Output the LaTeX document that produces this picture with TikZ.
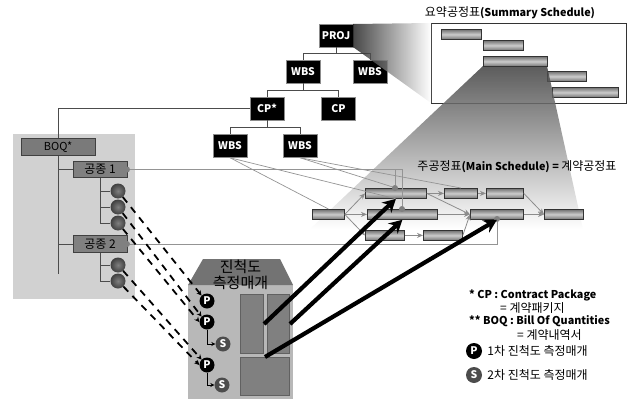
\documentclass[tikz,border=0pt]{standalone}
\usepackage{fontspec}
\setmainfont{Noto Sans CJK KR}
\usetikzlibrary{arrows.meta, positioning, calc}
\newcommand{\latn}[1]{{\fontsize{10.8}{12}\selectfont\bfseries #1}}
\tikzset{
  wbsbox/.style={fill=black, draw=black!45, line width=0.5pt, text=white, font=\fontsize{10.5}{12}\selectfont\bfseries, minimum width=34pt, minimum height=23pt, inner sep=0pt},
  barbox/.style={draw=black!80, line width=0.8pt, top color=black!55, bottom color=black!55, middle color=black!20, minimum height=10pt, inner sep=0pt, anchor=north west},
  tradebox/.style={fill=black!50, draw=black!75, line width=0.7pt, text=black, font=\fontsize{12}{14}\selectfont, minimum height=16.5pt, inner sep=0pt},
  workball/.style={circle, inner color=black!50, outer color=black!75, minimum size=15pt, inner sep=0pt},
  dotmark/.style={circle, fill=black!50, minimum size=6pt, inner sep=0pt},
  pbadge/.style={circle, fill=black, text=white, font=\fontsize{10.5}{11}\selectfont\bfseries, minimum size=15pt, inner sep=0pt},
  sbadge/.style={circle, fill=black!70, text=white, font=\fontsize{10.5}{11}\selectfont\bfseries, minimum size=15pt, inner sep=0pt},
  rackbox/.style={fill=black!50, draw=black!62, line width=1pt, inner sep=0pt, anchor=north west},
  treeline/.style={draw=black!70, line width=0.7pt},
  linkline/.style={draw=black!42, line width=0.7pt},
  flowline/.style={draw=black!45, line width=0.8pt, -{Stealth[length=6pt,width=5pt]}},
  dashline/.style={draw=black, line width=1.8pt, dash pattern=on 7pt off 6pt, -{Stealth[length=5pt,width=5pt]}},
  bigarrow/.style={draw=black, line width=4.2pt, -{Stealth[length=13pt,width=14pt]}},
  plainlabel/.style={font=\fontsize{12}{14}\selectfont, inner sep=0pt, anchor=west},
}
\begin{document}
\begin{tikzpicture}[x=1pt, y=-1pt]
  \useasboundingbox (0,0) rectangle (633,399);
  % panels
  \fill[black!18] (13,134) rectangle (135,299);
  \draw[black!80, line width=0.8pt] (431,23) rectangle (626,103);
  \node[barbox, minimum width=40pt] (suma) at (441,29) {};
  \node[barbox, minimum width=40pt] (sumb) at (483,40) {};
  \node[barbox, minimum width=39pt] (sumd) at (547,71) {};
  \node[barbox, minimum width=66pt] (sume) at (552,87) {};
  % tree
  \node[wbsbox] (proj) at (336,35.5) {PROJ};
  \node[wbsbox] (wbsa) at (303,71.5) {WBS};
  \node[wbsbox] (wbsb) at (370,71.5) {WBS};
  \node[wbsbox] (cpa) at (267,108.5) {CP*};
  \node[wbsbox] (cpb) at (338.5,108.5) {CP};
  \node[wbsbox] (wbsc) at (230,146) {WBS};
  \node[wbsbox] (wbsd) at (300,146) {WBS};
  \draw[treeline] (proj.south) -- ++(0,6) -| (wbsa.north);
  \draw[treeline] (proj.south) -- ++(0,6) -| (wbsb.north);
  \draw[treeline] (wbsa.south) -- ++(0,7) -| (cpa.north);
  \draw[treeline] (wbsa.south) -- ++(0,7) -| (cpb.north);
  \draw[treeline] (cpa.south) -- ++(0,7) -| (wbsc.north);
  \draw[treeline] (cpa.south) -- ++(0,7) -| (wbsd.north);
  % fans
  \shade[left color=black!90, right color=white, opacity=0.8] (353,24) -- (431,23) -- (431,103) -- (353,47) -- cycle;
  \shade[top color=black!75, bottom color=white, opacity=0.85] (483,66) -- (547,66) -- (583,229) -- (310,229) -- cycle;
  \node[barbox, minimum width=64pt] (sumc) at (483,56) {};
  \node[font=\fontsize{12}{14}\selectfont, inner sep=0pt] (sumtitle) at (510,13) {요약공정표\latn{(Summary Schedule)}};
  \node[font=\fontsize{12}{14}\selectfont, inner sep=0pt] (maintitle) at (517,167) {주공정표\latn{(Main Schedule) = }계약공정표};
  % schedule bars
  \node[barbox, minimum width=32pt] (bara) at (312,209) {};
  \node[barbox, minimum width=61pt] (barb) at (365,188) {};
  \node[barbox, minimum width=33pt] (barc) at (444,188) {};
  \node[barbox, minimum width=37pt] (bard) at (486,188) {};
  \node[barbox, minimum width=70pt] (bare) at (367,209) {};
  \node[barbox, minimum width=53pt] (barf) at (470,209) {};
  \node[barbox, minimum width=39pt] (barg) at (544,209) {};
  \node[barbox, minimum width=39pt] (barh) at (365,230) {};
  \node[barbox, minimum width=39pt] (bari) at (423,230) {};
  \draw[flowline] (bara.east) -- (barb.west);
  \draw[flowline] (bara.east) -- (bare.west);
  \draw[flowline] (bara.east) -- (barh.west);
  \draw[flowline] (barb.east) -- (barc.west);
  \draw[flowline] (barc.east) -- (bard.west);
  \draw[flowline] (bard.east) -- (barg.west);
  \draw[flowline] (barb.east) -- (barf.west);
  \draw[flowline] (bare.east) -- (barf.west);
  \draw[flowline] (bari.east) -- (barf.west);
  \draw[flowline] (barh.east) -- (bari.west);
  \draw[flowline] (barf.east) -- (barg.west);
  % wbs links
  \draw[linkline] (wbsc.south) -- (bara.north);
  \draw[linkline] (wbsc.south) -- (barb.south);
  \draw[linkline] (wbsd.south) -- (barb.north);
  \draw[linkline] (wbsd.south) -- (barc.north);
  % boq side
  \node[tradebox, fill=black!52, minimum width=74pt] (boq) at (58,147) {\fontsize{11}{12}\selectfont BOQ*};
  \node[tradebox, minimum width=54pt] (tradea) at (100,169.5) {공종 1};
  \node[tradebox, minimum width=54pt] (tradeb) at (100,244) {공종 2};
  \draw[treeline] (boq.north) |- (cpa.west);
  \draw[treeline] (boq.south) -- ++(0,118);
  \draw[treeline] (boq.south) |- (tradea.west);
  \draw[treeline] (boq.south) |- (tradeb.west);
  \foreach \y/\n in {191/a, 207/b, 223/c, 265/d, 281/e} {
    \node[workball] (ball\n) at (118,\y) {};
  }
  \foreach \n in {a, b, c} {
    \draw[treeline] (tradea.south) |- (ball\n);
  }
  \foreach \n in {d, e} {
    \draw[treeline] (tradeb.south) |- (ball\n);
  }
  \node[dotmark] (dota) at (127,169.5) {};
  \node[dotmark] (dotb) at (127,244) {};
  \node[dotmark] (dotc) at (395,188) {};
  \node[dotmark] (dotd) at (402,209) {};
  \node[dotmark] (dote) at (497,219) {};
  \draw[linkline] (dota) -| (dotc);
  \draw[linkline] (dota) -| (dotd);
  \draw[linkline] (dotb) -| (dote);
  % measuring unit
  \fill[black!28] (188,285) rectangle (293,399);
  \fill[black!55] (203,259) -- (280,259) -- (293,285) -- (188,285) -- cycle;
  \node[font=\fontsize{15}{15.5}\selectfont, inner sep=0pt, align=center] (unit) at (240.5,275) {진척도\\측정매개};
  \node[rackbox, minimum width=23pt, minimum height=59pt] (racka) at (240,294) {};
  \node[rackbox, minimum width=22pt, minimum height=59pt] (rackb) at (267,294) {};
  \node[rackbox, minimum width=49pt, minimum height=38pt] (rackc) at (240,357) {};
  \node[pbadge] (pa) at (207,301) {P};
  \node[pbadge] (pb) at (207,322) {P};
  \node[pbadge] (pc) at (207,365) {P};
  \node[sbadge] (sa) at (223,344) {S};
  \node[sbadge] (sb) at (222,385) {S};
  \draw[black, line width=0.9pt, -{Stealth[length=4pt,width=4pt]}] (pb.south) |- (sa.west);
  \draw[black, line width=0.9pt, -{Stealth[length=4pt,width=4pt]}] (pc.south) |- (sb.west);
  \draw[dashline] (balla) -- (pa.north west);
  \draw[dashline] (ballb) -- (pb.north west);
  \draw[dashline] (ballc) -- (pb.west);
  \draw[dashline] (balld) -- (pc.north west);
  \draw[dashline] (balle) -- (pc.west);
  \draw[bigarrow] (racka.east) -- (barb.south);
  \draw[bigarrow] (rackb.east) -- (bare.south);
  \draw[bigarrow] (rackc.north) -- (barf.south);
  % legend
  \node[plainlabel] (cpnote) at (469,295) {\latn{* CP : Contract Package}};
  \node[plainlabel] (cpkor) at (500,308) {= 계약패키지};
  \node[plainlabel] (boqnote) at (469,321) {\latn{** BOQ : Bill Of Quantities}};
  \node[plainlabel] (boqkor) at (517,335) {= 계약내역서};
  \node[pbadge, minimum size=16pt] (keyp) at (474,351) {P};
  \node[sbadge, minimum size=16pt] (keys) at (474,375) {S};
  \node[plainlabel, right=5pt of keyp] (keyptext) {1차 진척도 측정매개};
  \node[plainlabel, right=5pt of keys] (keystext) {2차 진척도 측정매개};
\end{tikzpicture}
\end{document}
